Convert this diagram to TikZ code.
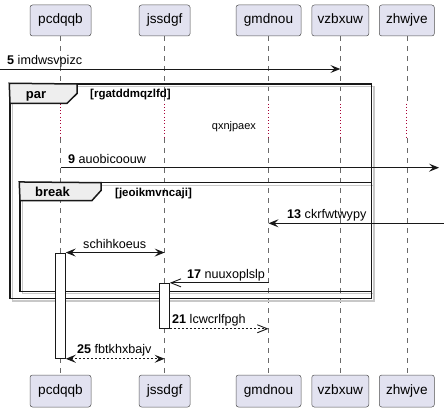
\documentclass[tikz,border=0pt]{standalone}
\usepackage{fontspec}
\setmainfont{Liberation Sans}
\usetikzlibrary{arrows.meta}
\definecolor{pbox}{HTML}{E2E2F0}
\definecolor{ink}{HTML}{181818}
\definecolor{delayc}{HTML}{A80036}
\definecolor{tabc}{HTML}{EEEEEE}
\definecolor{shad}{HTML}{C8C8C8}
\begin{document}
\begin{tikzpicture}[x=1pt,y=-1pt,
  part/.style={draw=ink!75, fill=pbox, rounded corners=2.5pt, line width=0.5pt, inner sep=0pt,
    font=\fontsize{13.6}{16}\selectfont, text height=9.8pt, text depth=2.8pt},
  life/.style={ink!65, line width=0.5pt, dash pattern=on 5pt off 5pt},
  dly/.style={delayc, line width=0.9pt, dash pattern=on 0.9pt off 2.4pt},
  msg/.style={ink, line width=0.9pt},
  dsh/.style={dash pattern=on 2pt off 2pt},
  fa/.style={-{Stealth[length=10pt,width=8pt,inset=4pt]}},
  fab/.style={{Stealth[length=10pt,width=8pt,inset=4pt]}-{Stealth[length=10pt,width=8pt,inset=4pt]}},
  oa/.style={-{Straight Barb[length=10pt,width=8pt,line width=0.9pt]}},
  lbl/.style={inner sep=0pt, anchor=base west, font=\fontsize{12.6}{15}\selectfont},
  act/.style={draw=ink, fill=white, line width=0.9pt, inner sep=0pt},
  frm/.style={draw=ink, line width=1.5pt, inner sep=0pt},
  frs/.style={draw=shad, line width=1.3pt},
  tab/.style={draw=ink, fill=tabc, line width=1.5pt},
  tabl/.style={inner sep=0pt, anchor=base west, font=\bfseries\fontsize{13}{15}\selectfont},
  grd/.style={inner sep=0pt, anchor=base west, font=\bfseries\fontsize{11.5}{14}\selectfont}
]
\useasboundingbox[fill=white] (0,0) rectangle (444,412);

% participants
\node[part, minimum width=61pt, minimum height=31pt] (pa) at (60.5,20.5) {pcdqqb};
\node[part, minimum width=51pt, minimum height=31pt] (pb) at (164.6,20.5) {jssdgf};
\node[part, minimum width=65pt, minimum height=31pt] (pc) at (268.5,20.5) {gmdnou};
\node[part, minimum width=57pt, minimum height=31pt] (pd) at (340.3,20.5) {vzbxuw};
\node[part, minimum width=55pt, minimum height=31pt] (pe) at (406.8,20.5) {zhwjve};
\node[part, minimum width=61pt, minimum height=32pt] (qa) at (60.5,391) {pcdqqb};
\node[part, minimum width=51pt, minimum height=32pt] (qb) at (164.6,391) {jssdgf};
\node[part, minimum width=65pt, minimum height=32pt] (qc) at (268.5,391) {gmdnou};
\node[part, minimum width=57pt, minimum height=32pt] (qd) at (340.3,391) {vzbxuw};
\node[part, minimum width=55pt, minimum height=32pt] (qe) at (406.8,391) {zhwjve};

% lifelines with delay section
\coordinate (dtop) at (0,103.5);
\coordinate (dbot) at (0,138);
\foreach \t/\b in {pa/qa,pb/qb,pc/qc,pd/qd,pe/qe}{
  \draw[life] (\t.south) -- (\t.south |- dtop);
  \draw[dly] (\t.south |- dtop) -- (\t.south |- dbot);
  \draw[life] (\t.south |- dbot) -- (\b.north);
}
\node[inner sep=0pt, anchor=base west, font=\fontsize{11}{13}\selectfont] (dtx) at (211.7,129) {qxnjpaex};

% frames (shadows first)
\draw[frs] (12.5,86.5) rectangle (374,301);
\draw[frs] (22.5,185.2) rectangle (374,293.8);
\node[frm, minimum width=361.5pt, minimum height=214.5pt] (fpar) at (190.75,191.25) {};
\node[frm, minimum width=351.5pt, minimum height=108.6pt] (fbrk) at (195.75,237) {};
\draw[tab] (fpar.north west) -- (77,84) -- (77,93.5) -- (67,103.3) -- (10,103.3) -- cycle;
\draw[tab] (fbrk.north west) -- (101,182.7) -- (101,190.5) -- (92,200.5) -- (20,200.5) -- cycle;
\node[tabl] (tpar) at (25.7,98.5) {par};
\node[grd] (gpar) at (90,97.5) {[rgatddmqzlfd]};
\node[tabl] (tbrk) at (35,196.5) {break};
\node[grd] (gbrk) at (115,196) {[jeoikmvncaji]};

% activations
\node[act, minimum width=10pt, minimum height=105.3pt] (aa) at (60.3,305.65) {};
\node[act, minimum width=10.3pt, minimum height=45pt] (ab) at (164.2,305.8) {};

% messages
\coordinate (m5s) at (0,69);
\draw[msg,fa] (m5s) -- (pd.south |- m5s);
\node[lbl] (l5) at (7,64.5) {\textbf{5} imdwsvpizc};

\coordinate (m9e) at (439,167.7);
\draw[msg,fa] (pa.south |- m9e) -- (m9e);
\node[lbl] (l9) at (68,163) {\textbf{9} auobicoouw};

\coordinate (m13s) at (444,223.3);
\draw[msg,fa] (m13s) -- (pc.south |- m13s);
\node[lbl] (l13) at (287,218) {\textbf{13} ckrfwtwypy};

\draw[msg,fab] (aa.north east) -- (pb.south |- aa.north);
\node[lbl] (ls) at (83,248) {schihkoeus};

\draw[msg,oa] (pc.south |- ab.north) -- (ab.north east);
\node[lbl] (l17) at (187,278.5) {\textbf{17} nuuxoplslp};

\draw[msg,oa,dsh] (ab.south east) -- (pc.south |- ab.south);
\node[lbl] (l21) at (172,323.5) {\textbf{21} lcwcrlfpgh};

\draw[msg,fab,dsh] (aa.south east) -- (pb.south |- aa.south);
\node[lbl] (l25) at (77,353.5) {\textbf{25} fbtkhxbajv};
\end{tikzpicture}
\end{document}
